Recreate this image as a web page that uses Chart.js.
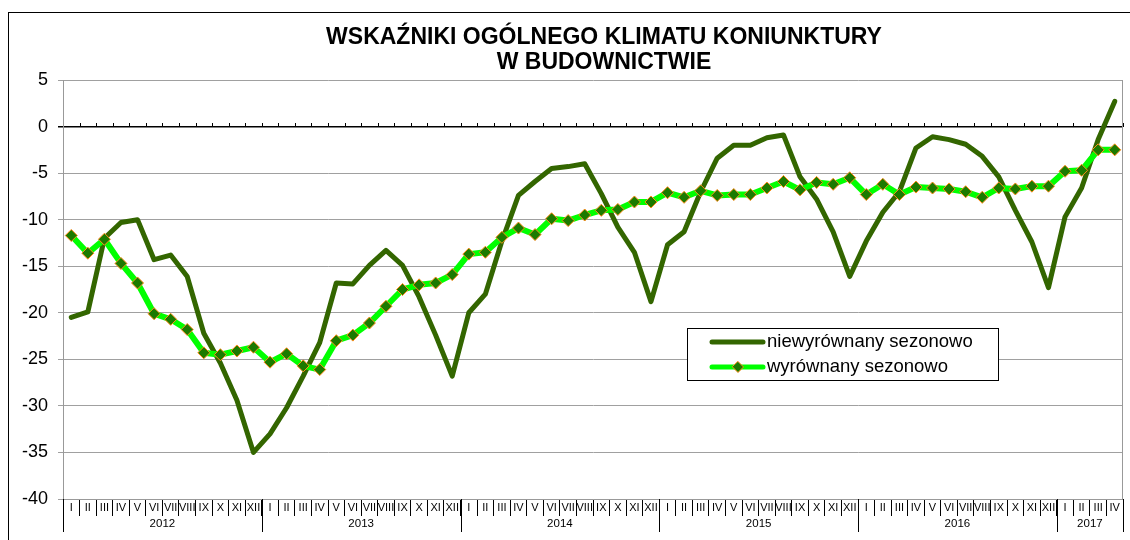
<!DOCTYPE html>
<html><head><meta charset="utf-8">
<script src="https://cdn.jsdelivr.net/npm/chart.js@4"></script>
<style>html,body{margin:0;padding:0;background:#fff}canvas{display:block}</style>
</head><body>
<canvas id="c" width="1130" height="540"></canvas>
<script>
const titleLines = ['WSKAŹNIKI OGÓLNEGO KLIMATU KONIUNKTURY', 'W BUDOWNICTWIE'];
const romanMonths = ['I','II','III','IV','V','VI','VII','VIII','IX','X','XI','XII'];
const years = ['2012','2013','2014','2015','2016','2017'];
const monthsPerYear = [12,12,12,12,12,4];
const seriesNames = ['niewyrównany sezonowo','wyrównany sezonowo'];
const unadjusted = [
  -20.5, -19.9, -12.0, -10.3, -10.0, -14.3, -13.8, -16.1, -22.2, -25.4, -29.4, -35.0,
  -33.0, -30.2, -26.8, -23.2, -16.8, -16.9, -14.9, -13.3, -14.9, -18.3, -22.4, -26.8,
  -20.0, -18.0, -12.3, -7.4, -5.9, -4.5, -4.3, -4.0, -7.2, -10.8, -13.5, -18.8,
  -12.7, -11.3, -7.0, -3.4, -2.0, -2.0, -1.2, -0.9, -5.4, -7.8, -11.3, -16.1,
  -12.3, -9.2, -7.0, -2.3, -1.1, -1.4, -1.9, -3.2, -5.4, -9.0, -12.4, -17.3,
  -9.7, -6.6, -1.4, 2.7
];
const adjusted = [
  -11.7, -13.6, -12.1, -14.7, -16.8, -20.1, -20.7, -21.8, -24.3, -24.5, -24.1, -23.7,
  -25.3, -24.4, -25.7, -26.1, -23.0, -22.4, -21.1, -19.3, -17.5, -17.0, -16.8, -15.9,
  -13.7, -13.5, -11.9, -10.9, -11.6, -9.9, -10.1, -9.5, -9.0, -8.9, -8.1, -8.1,
  -7.1, -7.6, -6.9, -7.4, -7.3, -7.3, -6.6, -5.9, -6.8, -6.0, -6.2, -5.5,
  -7.3, -6.2, -7.3, -6.5, -6.6, -6.7, -7.0, -7.6, -6.6, -6.7, -6.4, -6.4,
  -4.8, -4.7, -2.5, -2.5
];
const yMin = -40, yMax = 5, yStep = 5;

const labels = [];
years.forEach((y, i) => { for (let m = 0; m < monthsPerYear[i]; m++) labels.push(romanMonths[m]); });

const FONT = '"Liberation Sans", Arial, sans-serif';
const DARK = '#336600', LIGHT = '#00FF00', MARK_FILL = '#1B7A00', MARK_EDGE = '#FF8C1A';

const framePlugin = {
  id: 'frame',
  beforeDraw(chart) {
    const ctx = chart.ctx;
    ctx.save();
    ctx.fillStyle = '#fff';
    ctx.fillRect(0, 0, chart.width, chart.height);
    ctx.strokeStyle = '#000';
    ctx.lineWidth = 1;
    ctx.strokeRect(8.5, 12.5, 1300, 700);
    ctx.fillStyle = '#000';
    ctx.font = 'bold 23px ' + FONT;
    ctx.textAlign = 'center';
    ctx.textBaseline = 'middle';
    ctx.fillText(titleLines[0], 604, 38);
    ctx.fillText(titleLines[1], 604, 63);
    ctx.restore();
  },
  beforeDatasetsDraw(chart) {
    const ctx = chart.ctx, a = chart.chartArea;
    const y0 = Math.round(chart.scales.y.getPixelForValue(0));
    const n = labels.length, w = (a.right - a.left) / n;
    ctx.save();
    ctx.strokeStyle = '#999';
    ctx.lineWidth = 1;
    ctx.beginPath();
    ctx.moveTo(Math.round(a.right) - 0.5, a.top);
    ctx.lineTo(Math.round(a.right) - 0.5, a.bottom);
    ctx.stroke();
    ctx.strokeStyle = '#000';
    ctx.beginPath();
    for (let k = 1; k <= n; k++) {
      const x = Math.round(a.left + k * w) + 0.5;
      ctx.moveTo(x, y0 - 4);
      ctx.lineTo(x, y0);
    }
    ctx.stroke();
    ctx.restore();
  },
  afterDatasetsDraw(chart) {
    const ctx = chart.ctx;
    ctx.save();
    ctx.fillStyle = '#fff';
    ctx.fillRect(687, 328, 311, 52);
    ctx.strokeStyle = '#000';
    ctx.lineWidth = 1;
    ctx.strokeRect(687.5, 328.5, 311, 52);
    ctx.lineCap = 'round';
    ctx.strokeStyle = DARK; ctx.lineWidth = 5;
    ctx.beginPath(); ctx.moveTo(712, 342); ctx.lineTo(763, 342); ctx.stroke();
    ctx.strokeStyle = LIGHT; ctx.lineWidth = 5;
    ctx.beginPath(); ctx.moveTo(712, 367); ctx.lineTo(763, 367); ctx.stroke();
    ctx.fillStyle = MARK_FILL; ctx.strokeStyle = MARK_EDGE; ctx.lineWidth = 1;
    ctx.beginPath();
    ctx.moveTo(738, 361.5); ctx.lineTo(743.5, 367); ctx.lineTo(738, 372.5); ctx.lineTo(732.5, 367); ctx.closePath();
    ctx.fill(); ctx.stroke();
    ctx.fillStyle = '#000';
    ctx.font = '18.5px ' + FONT;
    ctx.textAlign = 'left';
    ctx.textBaseline = 'middle';
    ctx.fillText(seriesNames[0], 767, 342);
    ctx.fillText(seriesNames[1], 767, 367);
    ctx.restore();
  },
  afterDraw(chart) {
    const ctx = chart.ctx, a = chart.chartArea;
    const n = labels.length, w = (a.right - a.left) / n;
    ctx.save();
    ctx.strokeStyle = '#000';
    ctx.lineWidth = 1;
    ctx.fillStyle = '#000';
    ctx.font = '11.5px ' + FONT;
    ctx.textAlign = 'center';
    ctx.textBaseline = 'middle';
    let k = 0;
    const drawSep = (kk) => {
      const x = Math.round(a.left + kk * w) + 0.5;
      ctx.beginPath(); ctx.moveTo(x, a.bottom); ctx.lineTo(x, a.bottom + 33); ctx.stroke();
    };
    drawSep(0);
    years.forEach((y, i) => {
      const start = k, end = k + monthsPerYear[i];
      ctx.fillText(y, a.left + (start + end) / 2 * w, a.bottom + 25);
      drawSep(end);
      k = end;
    });
    ctx.restore();
  }
};

new Chart(document.getElementById('c'), {
  type: 'line',
  data: {
    labels: labels,
    datasets: [
      {
        label: seriesNames[0], data: unadjusted, order: 2,
        borderColor: DARK, backgroundColor: DARK, borderWidth: 5,
        pointRadius: 0, tension: 0, fill: false, borderJoinStyle: 'round', borderCapStyle: 'round'
      },
      {
        label: seriesNames[1], data: adjusted, order: 1,
        borderColor: LIGHT, backgroundColor: MARK_FILL, borderWidth: 6,
        pointStyle: 'rectRot', pointRadius: 6, pointBackgroundColor: MARK_FILL,
        pointBorderColor: MARK_EDGE, pointBorderWidth: 1, tension: 0, fill: false,
        borderJoinStyle: 'round'
      }
    ]
  },
  options: {
    responsive: false,
    animation: false,
    devicePixelRatio: 1,
    layout: { padding: { top: 80, left: 0, right: 2, bottom: 0 } },
    plugins: { legend: { display: false }, title: { display: false }, tooltip: { enabled: false } },
    scales: {
      x: {
        type: 'category',
        offset: true,
        afterFit(scale) { scale.height = 41; },
        grid: { offset: true, drawOnChartArea: false, drawTicks: true, tickLength: 17, color: '#000', tickColor: '#000', lineWidth: 1 },
        border: { display: true, color: '#999' },
        ticks: { autoSkip: false, maxRotation: 0, minRotation: 0, padding: -15, color: '#000', font: { family: FONT, size: 11 } }
      },
      y: {
        min: yMin, max: yMax,
        afterFit(scale) { scale.width = 63; },
        grid: {
          color: (c) => (c.tick && c.tick.value === 0) ? '#000' : '#a0a0a0',
          lineWidth: (c) => (c.tick && c.tick.value === 0) ? 1.5 : 1,
          tickLength: 5, drawTicks: true
        },
        border: { display: true, color: '#999', width: 1 },
        ticks: { stepSize: yStep, padding: 10, color: '#000', font: { family: FONT, size: 18 } }
      }
    }
  },
  plugins: [framePlugin]
});
</script>
</body></html>
